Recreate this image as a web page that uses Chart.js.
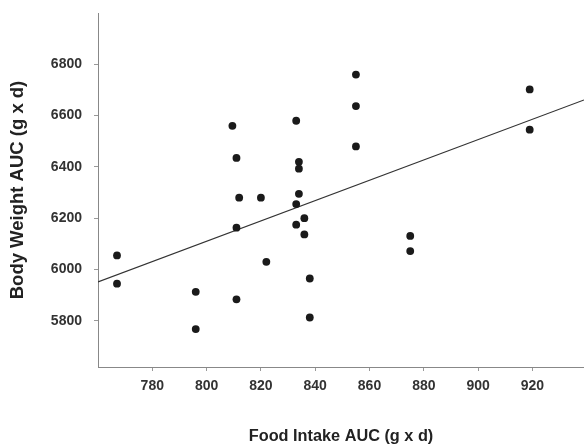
<!DOCTYPE html>
<html>
<head>
<meta charset="utf-8">
<script src="https://cdn.jsdelivr.net/npm/chart.js@4/dist/chart.umd.min.js"></script>
<style>
  body { margin: 0; background: #fff; }
  #wrap { width: 584px; height: 446px; }
</style>
</head>
<body>
<div id="wrap"><canvas id="scatter" width="584" height="446"></canvas></div>
<script>
// food intake AUC (x) and body weight AUC (y) per animal
var foodIntake = [767, 767, 796, 796, 811, 811, 822, 833, 809.5, 811, 812, 820, 833, 834, 834, 834, 833, 836, 855, 855, 855, 919, 919, 836, 838, 838, 875, 875];
var bodyWeight = [6055, 5945, 5913, 5768, 5884, 6163, 6030, 6175, 6560, 6435, 6280, 6280, 6580, 6420, 6393, 6295, 6255, 6200, 6760, 6637, 6480, 6702, 6545, 6137, 5965, 5813, 6131, 6072];

// regression line ends
var fitX = [760, 939];
var fitY = [5952, 6661];

var xTicks = [780, 800, 820, 840, 860, 880, 900, 920];
var yTicks = [5800, 6000, 6200, 6400, 6600, 6800];

var pts = [];
for (var i = 0; i < foodIntake.length; i++) {
    pts.push({x: foodIntake[i], y: bodyWeight[i]});
}
var fitLine = [];
for (var j = 0; j < fitX.length; j++) {
    fitLine.push({x: fitX[j], y: fitY[j]});
}

var fontFam = "'Liberation Sans', Arial, sans-serif";

function noPad(scale) {
    scale.paddingTop = 0;
    scale.paddingBottom = 0;
    scale.paddingLeft = 0;
    scale.paddingRight = 0;
}

var ctx = document.getElementById('scatter').getContext('2d');
var myChart = new Chart(ctx, {
    type: 'scatter',
    data: {
        datasets: [{
            label: 'Animals',
            data: pts,
            backgroundColor: '#1a1a1a',
            borderColor: '#1a1a1a',
            pointRadius: 3.9,
            pointBorderWidth: 0
        }, {
            label: 'Fit',
            type: 'line',
            data: fitLine,
            borderColor: '#333',
            borderWidth: 1.2,
            pointRadius: 0,
            fill: false
        }]
    },
    options: {
        responsive: false,
        animation: false,
        layout: { autoPadding: false, padding: { top: 13, right: 0, left: 0, bottom: 0 } },
        plugins: {
            legend: { display: false },
            tooltip: { enabled: false }
        },
        scales: {
            x: {
                type: 'linear',
                min: 760,
                max: 939,
                afterBuildTicks: function(scale) {
                    scale.ticks = xTicks.map(function(v) { return {value: v}; });
                },
                afterFit: function(scale) { scale.height = 79; noPad(scale); },
                grid: { drawOnChartArea: false, drawTicks: true, tickLength: 4, color: '#999' },
                border: { color: '#888', width: 1 },
                ticks: {
                    color: '#333',
                    padding: 7,
                    callback: function(v) { return String(v); },
                    font: { family: fontFam, size: 14, weight: 'bold' }
                },
                title: {
                    display: true,
                    text: 'Food Intake AUC (g x d)',
                    color: '#222',
                    padding: { top: 0, bottom: 0 },
                    font: { family: fontFam, size: 16.3, weight: 'bold' }
                }
            },
            y: {
                min: 5620,
                max: 7000,
                afterBuildTicks: function(scale) {
                    scale.ticks = yTicks.map(function(v) { return {value: v}; });
                },
                afterFit: function(scale) { scale.width = 98; noPad(scale); },
                grid: { drawOnChartArea: false, drawTicks: true, tickLength: 4, color: '#999' },
                border: { color: '#888', width: 1 },
                ticks: {
                    color: '#333',
                    padding: 12,
                    callback: function(v) { return String(v); },
                    font: { family: fontFam, size: 14, weight: 'bold' }
                },
                title: {
                    display: true,
                    text: 'Body Weight AUC (g x d)',
                    color: '#222',
                    padding: { top: 7, bottom: 0 },
                    font: { family: fontFam, size: 18.5, weight: 'bold' }
                }
            }
        }
    }
});
</script>
</body>
</html>
